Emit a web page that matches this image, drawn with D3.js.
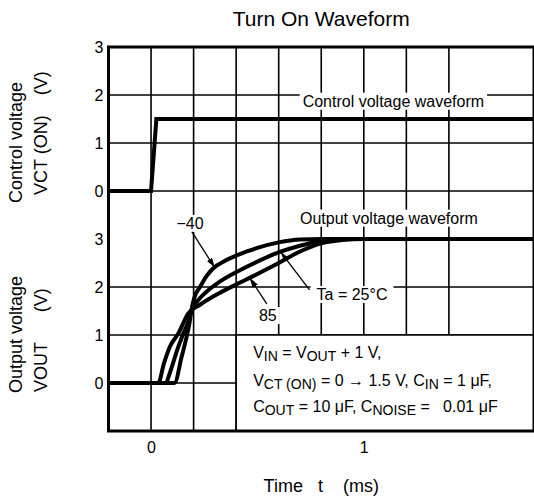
<!DOCTYPE html>
<html>
<head>
<meta charset="utf-8">
<script src="https://cdn.jsdelivr.net/npm/d3@7"></script>
<style>
html,body{margin:0;padding:0;background:#fff;}
svg{display:block;font-family:"Liberation Sans",Arial,Helvetica,sans-serif;}
text{white-space:pre;}
</style>
</head>
<body>
<svg id="chart" width="534" height="500"></svg>
<script>
// ---- data ----
const xTickValues = [0, 1];
const yTickValues = [0, 1, 2, 3];
const tCtrl = [-0.2, 0, 0.025, 1.8];
const vCtrl = [0, 0, 1.5, 1.5];
const tM40 = [-0.2, 0.11, 0.144, 0.167, 0.183, 0.19, 0.205, 0.23, 0.26, 0.29, 0.35, 0.45, 0.6, 0.7, 0.8, 1.8];
const vM40 = [0, 0, 0.55, 0.96, 1.31, 1.52, 1.8, 2.0, 2.22, 2.38, 2.55, 2.74, 2.93, 2.99, 3.0, 3.0];
const t25 = [-0.2, 0.066, 0.095, 0.12, 0.152, 0.175, 0.19, 0.22, 0.253, 0.323, 0.45, 0.605, 0.7, 0.8, 0.9, 1.8];
const v25 = [0, 0, 0.3, 0.65, 1.03, 1.28, 1.52, 1.72, 1.87, 2.11, 2.42, 2.73, 2.86, 2.96, 3.0, 3.0];
const t85 = [-0.2, 0.034, 0.06, 0.089, 0.128, 0.175, 0.23, 0.32, 0.45, 0.6, 0.7, 0.8, 0.9, 1.0, 1.8];
const v85 = [0, 0, 0.4, 0.76, 1.03, 1.45, 1.63, 1.87, 2.16, 2.5, 2.74, 2.91, 2.98, 3.0, 3.0];

const svg = d3.select("#chart");
const x = d3.scaleLinear().domain([-0.2, 1.8]).range([108.5, 534]);
const yC = d3.scaleLinear().domain([-1, 3]).range([239, 47]);   // control section
const yO = d3.scaleLinear().domain([-1, 3]).range([431, 239]);  // output section
const X0 = x(-0.2), X1 = x(1.8), Y0 = yC(3), Y1 = yO(-1);

// grid
const grid = svg.append("g");
d3.range(0, 9).map(i => -0.2 + i * 0.2).forEach(t => {
  grid.append("line").attr("x1", x(t)).attr("x2", x(t)).attr("y1", Y0).attr("y2", Y1)
    .attr("stroke", "#000").attr("stroke-width", 1.6);
});
[3, 2, 1, 0].forEach(v => grid.append("line").attr("x1", X0).attr("x2", X1)
  .attr("y1", yC(v)).attr("y2", yC(v)).attr("stroke", "#000").attr("stroke-width", 1.6));
[2, 1, 0].forEach(v => grid.append("line").attr("x1", X0).attr("x2", X1)
  .attr("y1", yO(v)).attr("y2", yO(v)).attr("stroke", "#000").attr("stroke-width", 1.6));

const bgLayer = svg.append("g");
const frameLayer = svg.append("g");
const lineLayer = svg.append("g");
const textLayer = svg.append("g");

// conditions box (white, covers grid)
bgLayer.append("rect").attr("x", x(0.4)).attr("y", yO(1)).attr("width", X1 - x(0.4) + 2)
  .attr("height", Y1 - yO(1)).attr("fill", "#fff");
bgLayer.append("line").attr("x1", x(0.4)).attr("x2", x(0.4)).attr("y1", yO(1)).attr("y2", Y1)
  .attr("stroke", "#000").attr("stroke-width", 1.6);
bgLayer.append("line").attr("x1", x(0.4)).attr("x2", X1).attr("y1", yO(1)).attr("y2", yO(1))
  .attr("stroke", "#000").attr("stroke-width", 1.6);

// frame
frameLayer.append("rect").attr("x", X0).attr("y", Y0).attr("width", X1 - X0).attr("height", Y1 - Y0)
  .attr("fill", "none").attr("stroke", "#000").attr("stroke-width", 3);

// axes
const axL1 = svg.append("g").attr("transform", `translate(${X0},0)`)
  .call(d3.axisLeft(yC).tickValues(yTickValues).tickSize(0).tickPadding(5).tickFormat(d3.format("d")));
const axL2 = svg.append("g").attr("transform", `translate(${X0},0)`)
  .call(d3.axisLeft(yO).tickValues(yTickValues).tickSize(0).tickPadding(5).tickFormat(d3.format("d")));
const axB = svg.append("g").attr("transform", `translate(0,${Y1})`)
  .call(d3.axisBottom(x).tickValues(xTickValues).tickSize(0).tickPadding(11).tickFormat(d3.format("d")));
[axL1, axL2, axB].forEach(a => {
  a.select(".domain").remove();
  a.selectAll("text").attr("font-size", 16).attr("fill", "#000")
    .attr("font-family", "'Liberation Sans',Arial,sans-serif");
});

// waveforms
const lineC = d3.line().x(d => x(d[0])).y(d => yC(d[1]));
const lineO = d3.line().x(d => x(d[0])).y(d => yO(d[1])).curve(d3.curveMonotoneX);
lineLayer.append("path").datum(d3.zip(tCtrl, vCtrl)).attr("d", lineC)
  .attr("fill", "none").attr("stroke", "#000").attr("stroke-width", 4).attr("stroke-linejoin", "miter");
[[t85, v85], [t25, v25], [tM40, vM40]].forEach(([ts, vs]) => {
  lineLayer.append("path").datum(d3.zip(ts, vs)).attr("d", lineO)
    .attr("fill", "none").attr("stroke", "#000").attr("stroke-width", 4);
});

// arrow marker
svg.append("defs").append("marker").attr("id", "arr").attr("viewBox", "0 0 10 6")
  .attr("refX", 10).attr("refY", 3).attr("markerWidth", 10).attr("markerHeight", 6)
  .attr("markerUnits", "userSpaceOnUse").attr("orient", "auto")
  .append("path").attr("d", "M0,0 L10,3 L0,6 Z").attr("fill", "#000");

function leader(t1, v1, t2, v2) {
  lineLayer.append("line").attr("x1", x(t1)).attr("y1", yO(v1)).attr("x2", x(t2)).attr("y2", yO(v2))
    .attr("stroke", "#000").attr("stroke-width", 1.3).attr("marker-end", "url(#arr)");
}

function label(txt, px, py, size, anchor, padX, padY) {
  const t = textLayer.append("text").attr("x", px).attr("y", py).attr("font-size", size)
    .attr("text-anchor", anchor).attr("fill", "#000").text(txt);
  const b = t.node().getBBox();
  bgLayer.append("rect").attr("x", b.x - padX).attr("y", b.y - padY)
    .attr("width", b.width + 2 * padX).attr("height", b.height + 2 * padY).attr("fill", "#fff");
  return t;
}

label("Control voltage waveform", x(1.139), yC(1.756), 16, "middle", 3, 0);
label("Output voltage waveform", x(1.118), yO(3.32), 16, "middle", 3, 0);
label("\u221240", x(0.183), yO(3.21), 16, "middle", 2, 0);
label("85", x(0.549), yO(1.29), 16, "middle", 3, 0);
label("Ta = 25\u00B0C", x(0.778), yO(1.73), 16, "start", 6, 0);

leader(0.192, 3.15, 0.3, 2.40);
leader(0.544, 1.65, 0.464, 2.19);
leader(0.745, 1.94, 0.609, 2.73);

// conditions text
const bx = x(0.4) + 17, by = yO(1);
const condLines = [
  [["V", 0], ["IN", 1], [" = V", 0], ["OUT", 1], [" + 1 V,", 0]],
  [["V", 0], ["CT (ON)", 1], [" = 0 \u2192 1.5 V, C", 0], ["IN", 1], [" = 1 \u03BCF,", 0]],
  [["C", 0], ["OUT", 1], [" = 10 \u03BCF, C", 0], ["NOISE", 1], [" =   0.01 \u03BCF", 0]]
];
const condY = [23, 50.5, 77];
condLines.forEach((parts, i) => {
  const t = textLayer.append("text").attr("x", bx).attr("y", by + condY[i]).attr("font-size", 16).attr("fill", "#000");
  let prevSub = 0;
  parts.forEach(([s, sub]) => {
    const dy = sub === prevSub ? 0 : (sub ? 3 : -3);
    t.append("tspan").attr("dy", dy).attr("font-size", sub ? 14 : 16).text(s);
    prevSub = sub;
  });
});

// titles
textLayer.append("text").attr("x", (X0 + X1) / 2).attr("y", 26).attr("text-anchor", "middle")
  .attr("font-size", 21).text("Turn On Waveform");
textLayer.append("text").attr("x", (X0 + X1) / 2).attr("y", 492).attr("text-anchor", "middle")
  .attr("font-size", 18).text("Time   t    (ms)");

function vlabel(txt, px, py) {
  textLayer.append("text").attr("transform", `translate(${px},${py}) rotate(-90)`)
    .attr("font-size", 18).attr("text-anchor", "start").text(txt);
}
vlabel("Control voltage", 22, 203);
vlabel("VCT (ON)    (V)", 47, 195);
vlabel("Output voltage", 22, 393);
vlabel("VOUT      (V)", 47, 392);
</script>
</body>
</html>
